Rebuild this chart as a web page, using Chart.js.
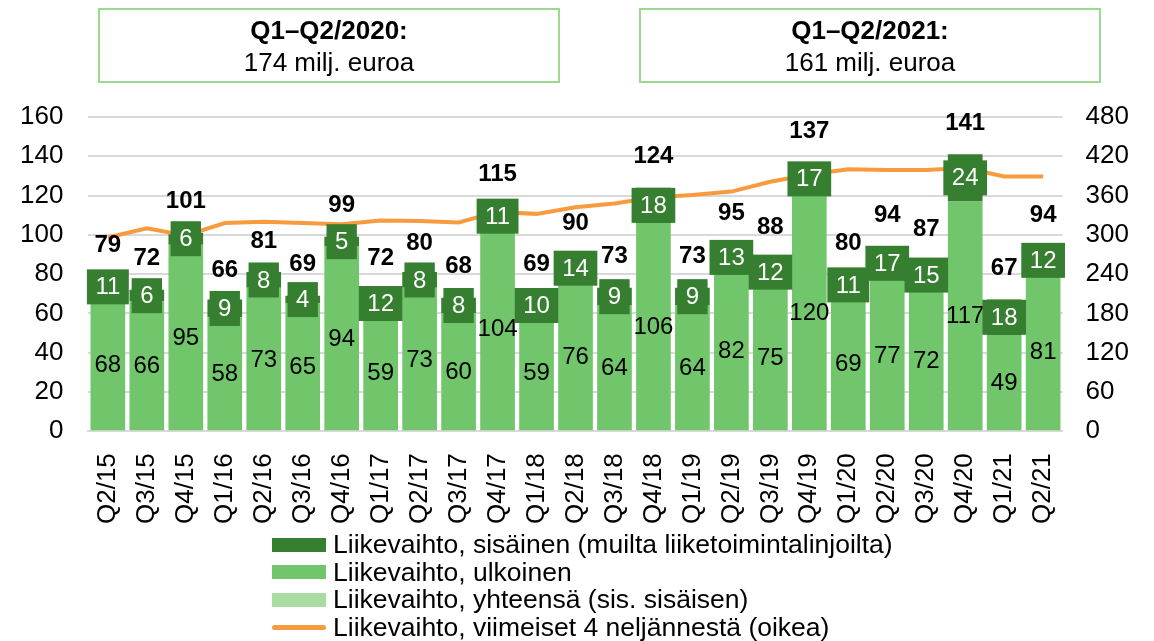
<!DOCTYPE html>
<html lang="fi">
<head>
<meta charset="utf-8">
<script src="https://cdn.jsdelivr.net/npm/chart.js@4"></script>
<style>
  body { margin: 0; background: #fff; font-family: "Liberation Sans", Arial, sans-serif; }
  #wrap { position: relative; width: 1154px; height: 641px; }
  .box { position: absolute; top: 8px; width: 458px; height: 67px; border: 2px solid #9ad98f;
         text-align: center; font-size: 26px; line-height: 32px; padding-top: 4px; color: #000; }
  .box b { display: block; }
  #legend { position: absolute; left: 272px; top: 531px; font-size: 26.5px; line-height: 27.5px; color: #000; }
  #legend div { display: flex; align-items: center; white-space: nowrap; }
  #legend span.sw { display: inline-block; width: 54px; height: 14px; margin-right: 7px; }
  #legend span.ln { display: inline-block; width: 54px; height: 5px; border-radius: 3px; margin-right: 7px; }
</style>
</head>
<body>
<div id="wrap">
  <canvas id="myChart" width="1154" height="641"></canvas>
  <div class="box" style="left:98px"><b>Q1–Q2/2020:</b>174 milj. euroa</div>
  <div class="box" style="left:639px"><b>Q1–Q2/2021:</b>161 milj. euroa</div>
  <div id="legend"></div>
</div>
<script>
// DATA
const kvartaalit = ['Q2/15', 'Q3/15', 'Q4/15', 'Q1/16', 'Q2/16', 'Q3/16', 'Q4/16', 'Q1/17', 'Q2/17', 'Q3/17',
    'Q4/17', 'Q1/18', 'Q2/18', 'Q3/18', 'Q4/18', 'Q1/19', 'Q2/19', 'Q3/19', 'Q4/19', 'Q1/20',
    'Q2/20', 'Q3/20', 'Q4/20', 'Q1/21', 'Q2/21'];
const ulkoinen = [68, 66, 95, 58, 73, 65, 94, 59, 73, 60, 104, 59, 76, 64, 106, 64, 82, 75, 120, 69, 77, 72, 117, 49, 81];
const sisainen = [11, 6, 6, 9, 8, 4, 5, 12, 8, 8, 11, 10, 14, 9, 18, 9, 13, 12, 17, 11, 17, 15, 24, 18, 12];
const yhteensa = [79, 72, 101, 66, 81, 69, 99, 72, 80, 68, 115, 69, 90, 73, 124, 73, 95, 88, 137, 80, 94, 87, 141, 67, 94];
const viimeiset4 = [296, 310, 299, 318, 320, 318, 316, 322, 321, 319, 335, 332, 342, 348, 357, 361, 366, 381, 392, 400,
    399, 399, 402, 389, 389];
const vasenTicks = [0, 160, 20];
const oikeaTicks = [0, 480, 60];

const sarjat = [
    'Liikevaihto, sisäinen (muilta liiketoimintalinjoilta)',
    'Liikevaihto, ulkoinen',
    'Liikevaihto, yhteensä (sis. sisäisen)',
    'Liikevaihto, viimeiset 4 neljännestä (oikea)'
];

const tummaVihrea = '#367e30';
const vaaleaVihrea = '#71c66c';
const yhteensaVari = '#a9dca0';
const oranssi = '#f89b3f';
const fontti = '"Liberation Sans", Arial, sans-serif';

// LEGEND
const legend = document.getElementById('legend');
const legendVarit = [tummaVihrea, vaaleaVihrea, yhteensaVari, oranssi];
sarjat.forEach((nimi, i) => {
    const rivi = document.createElement('div');
    const sw = document.createElement('span');
    sw.className = i === 3 ? 'ln' : 'sw';
    sw.style.background = legendVarit[i];
    rivi.appendChild(sw);
    rivi.appendChild(document.createTextNode(nimi));
    legend.appendChild(rivi);
});

// LABELS
const arvoLabelit = {
    id: 'arvoLabelit',
    afterDatasetsDraw(chart) {
        const ctx = chart.ctx;
        const y = chart.scales.y;
        const ulkMeta = chart.getDatasetMeta(0);
        const sisMeta = chart.getDatasetMeta(1);
        ctx.save();
        ctx.textAlign = 'center';
        ctx.textBaseline = 'middle';
        ctx.font = '24px ' + fontti;
        ulkMeta.data.forEach((bar, i) => {
            ctx.fillStyle = '#000';
            ctx.fillText(String(ulkoinen[i]), bar.x, (bar.y + bar.base) / 2 + 1);
        });
        sisMeta.data.forEach((bar, i) => {
            const txt = String(sisainen[i]);
            const w = ctx.measureText(txt).width + 17;
            const cy = (bar.y + bar.base) / 2;
            ctx.fillStyle = tummaVihrea;
            ctx.fillRect(bar.x - w / 2, cy - 17.5, w, 35);
            ctx.fillStyle = '#fff';
            ctx.fillText(txt, bar.x, cy + 1);
        });
        ctx.font = 'bold 24px ' + fontti;
        ctx.fillStyle = '#000';
        sisMeta.data.forEach((bar, i) => {
            ctx.fillText(String(yhteensa[i]), bar.x, y.getPixelForValue(yhteensa[i]) - 31);
        });
        ctx.restore();
    }
};

// GRAFIIKKA
const tickFont = { family: fontti, size: 26 };

const myChart = new Chart(document.getElementById('myChart'), {
    type: 'bar',
    data: {
        labels: kvartaalit,
        datasets: [
            { label: sarjat[1], data: ulkoinen, backgroundColor: vaaleaVihrea, stack: 's', order: 1,
              barPercentage: 0.89, categoryPercentage: 1 },
            { label: sarjat[0], data: sisainen, backgroundColor: tummaVihrea, stack: 's', order: 1,
              barPercentage: 0.89, categoryPercentage: 1 },
            { type: 'line', label: sarjat[3], data: viimeiset4, yAxisID: 'y1', borderColor: oranssi,
              borderWidth: 4, pointRadius: 0, tension: 0, order: 0 }
        ]
    },
    options: {
        responsive: false,
        animation: false,
        layout: { padding: { top: 117, left: -5, right: 2, bottom: 103 } },
        plugins: { legend: { display: false }, tooltip: { enabled: false } },
        scales: {
            x: {
                stacked: true,
                grid: { display: false },
                border: { color: '#d9d9d9', width: 2 },
                ticks: { font: tickFont, color: '#000', minRotation: 90, maxRotation: 90, autoSkip: false, padding: 14 }
            },
            y: {
                stacked: true,
                min: vasenTicks[0], max: vasenTicks[1],
                grid: { color: '#d9d9d9', lineWidth: 2, drawTicks: false },
                border: { display: false },
                ticks: { stepSize: vasenTicks[2], font: tickFont, color: '#000', padding: 25 }
            },
            y1: {
                position: 'right',
                min: oikeaTicks[0], max: oikeaTicks[1],
                grid: { display: false, drawTicks: false },
                border: { display: false },
                ticks: { stepSize: oikeaTicks[2], font: tickFont, color: '#000', padding: 23 }
            }
        }
    },
    plugins: [arvoLabelit]
});
</script>
</body>
</html>
